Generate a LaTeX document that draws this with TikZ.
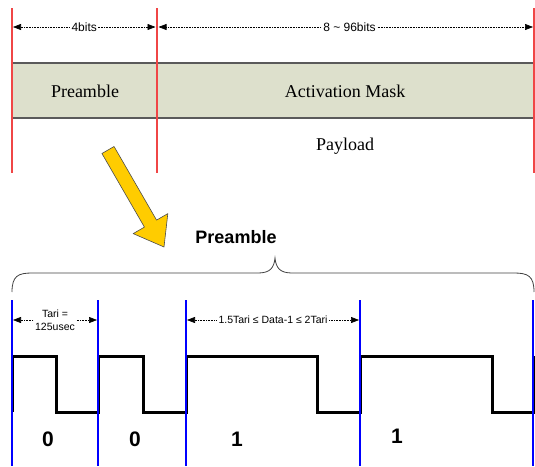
\documentclass[tikz,border=0pt]{standalone}
\usepackage{fontspec}
\setmainfont{Liberation Serif}
\setsansfont{Liberation Sans}
\usetikzlibrary{arrows.meta}

\definecolor{bandgreen}{RGB}{221,224,204}
\definecolor{bandedge}{RGB}{90,90,90}
\definecolor{redline}{RGB}{240,70,70}
\definecolor{blueline}{RGB}{0,0,255}
\definecolor{arrowyellow}{RGB}{255,204,0}

\tikzset{
  tip/.tip={Triangle[length=8pt,width=6pt]},
  dimline/.style={densely dotted, line width=0.6pt, tip-tip},
  dimlabel/.style={fill=white, inner sep=1.5pt, font=\sffamily\fontsize{12}{12}\selectfont},
  smalllabel/.style={fill=white, inner sep=1.5pt, align=center, font=\sffamily\fontsize{10.5}{13}\selectfont},
  fieldtext/.style={font=\fontsize{18}{20}\selectfont},
  bitlabel/.style={font=\sffamily\bfseries\fontsize{21}{21}\selectfont},
  redbar/.style={redline, line width=1.1pt},
  bluebar/.style={blueline, line width=2pt},
  wave/.style={line width=3pt, line join=miter},
}

\begin{document}
\begin{tikzpicture}[x=1pt,y=-1pt]
  \useasboundingbox (0,0) rectangle (535,466);

  % frame band
  \fill[bandgreen] (12,63) rectangle (535,118);
  \draw[bandedge, line width=1.2pt] (12,63) -- (535,63);
  \draw[bandedge, line width=1.2pt] (12,118) -- (535,118);

  % red field borders
  \foreach \x [count=\i] in {12,157,534} {
    \coordinate (r\i) at (\x,8);
    \coordinate (s\i) at (\x,173);
    \draw[redbar] (r\i) -- (s\i);
  }

  \node[fieldtext] (pre)  at (85,91)   {Preamble};
  \node[fieldtext] (mask) at (345,91)  {Activation Mask};
  \node[fieldtext] (pay)  at (345,146) {Payload};

  % sizes on top
  \coordinate (d1) at (13,27);
  \coordinate (d2) at (155.5,27);
  \coordinate (d3) at (158.5,27);
  \coordinate (d4) at (533,27);
  \draw[dimline] (d1) -- node[dimlabel] (bits4) {4bits} (d2);
  \draw[dimline] (d3) -- node[dimlabel, pos=0.51] (bits96) {8 \textasciitilde{} 96bits} (d4);

  % yellow arrow
  \begin{scope}[shift={(108,150)}, rotate=-60]
    \draw[fill=arrowyellow, draw=black!70, line width=0.6pt, line join=round]
      (0,-7) -- (85,-7) -- (85,-20) -- (112,0) -- (85,20) -- (85,7) -- (0,7) -- cycle;
  \end{scope}

  \node[font=\sffamily\bfseries\fontsize{18}{20}\selectfont] (title) at (236,237) {Preamble};

  % brace
  \draw[black!75, line width=0.8pt]
    (12,292) .. controls (12,276) and (18,273) .. (32,273) -- (258,273)
    .. controls (270,273) and (274,268) .. (275,258)
    .. controls (276,268) and (280,273) .. (292,273) -- (514,273)
    .. controls (528,273) and (534,276) .. (534,292);

  % signal
  \draw[wave] (12,412) -- (12,356) -- (56,356) -- (56,412) -- (98,412)
    -- (98,356) -- (143,356) -- (143,412) -- (186,412)
    -- (186,356) -- (317,356) -- (317,412) -- (360,412)
    -- (360,356) -- (492,356) -- (492,412) -- (534,412) -- (534,356);

  \foreach \x [count=\i] in {12,98,186,360,533} {
    \coordinate (b\i) at (\x,300);
    \coordinate (c\i) at (\x,466);
    \draw[bluebar] (b\i) -- (c\i);
  }

  % timing
  \coordinate (e1) at (13,320);
  \coordinate (e2) at (97,320);
  \coordinate (e3) at (187,320);
  \coordinate (e4) at (359,320);
  \draw[dimline] (e1) -- node[smalllabel] (tari) {Tari =\\125usec} (e2);
  \draw[dimline] (e3) -- node[smalllabel] (data1) {1.5Tari ≤ Data-1 ≤ 2Tari} (e4);

  \node[bitlabel] (bit1) at (48,439)  {0};
  \node[bitlabel] (bit2) at (135,439) {0};
  \node[bitlabel] (bit3) at (237,439) {1};
  \node[bitlabel] (bit4) at (397,436) {1};

\end{tikzpicture}
\end{document}
